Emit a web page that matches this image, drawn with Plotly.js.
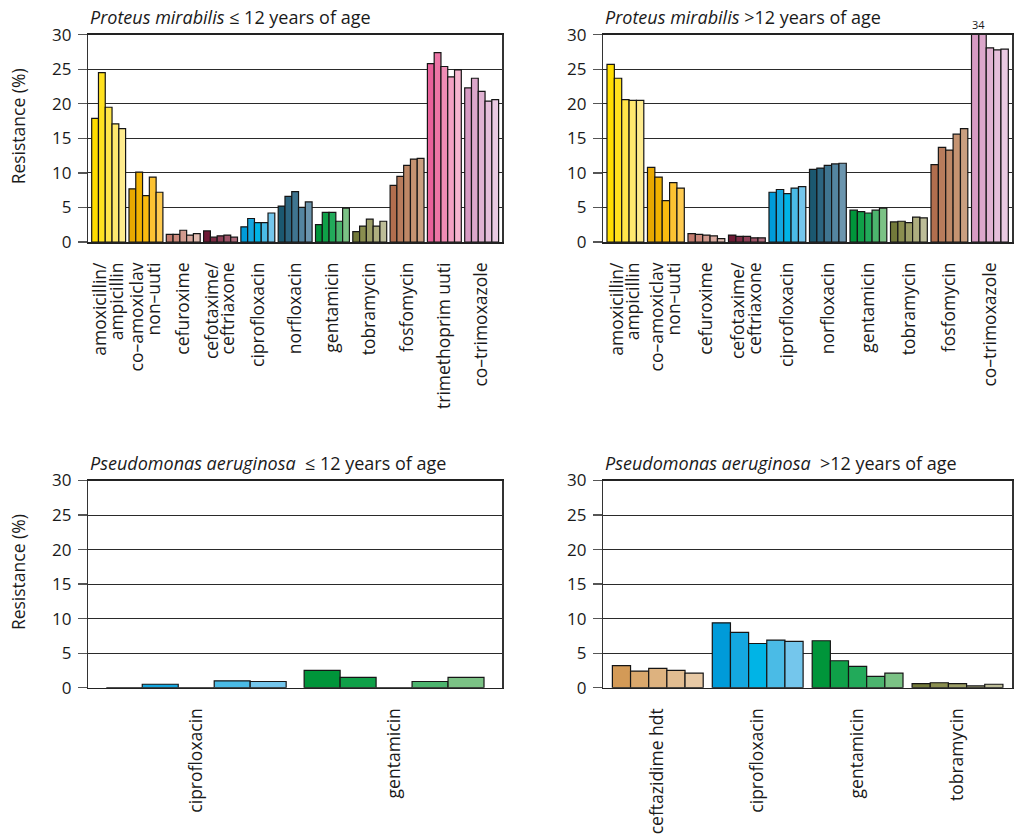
<!DOCTYPE html>
<html>
<head>
<meta charset="utf-8">
<script src="https://cdn.plot.ly/plotly-3.0.1.min.js"></script>
<style>html,body{margin:0;padding:0;background:#fff;}#chart{width:1020px;height:835px;}</style>
</head>
<body>
<div id="chart"></div>
<script>
// ---------- DATA ----------
const years = ['y1', 'y2', 'y3', 'y4', 'y5'];

const pmYoungCats = ['amox', 'coamox', 'cefur', 'cefot', 'cipro', 'norflox', 'genta', 'tobra', 'fosfo', 'trim', 'cotrim'];
const pmYoungValues = [
  [17.9, 24.5, 19.5, 17.1, 16.4],
  [7.7, 10.1, 6.7, 9.4, 7.2],
  [1.1, 1.1, 1.7, 1.0, 1.2],
  [1.6, 0.7, 0.9, 1.0, 0.7],
  [2.2, 3.4, 2.8, 2.8, 4.2],
  [5.2, 6.6, 7.3, 5.0, 5.8],
  [2.5, 4.3, 4.3, 3.0, 4.9],
  [1.5, 2.3, 3.3, 2.3, 3.0],
  [8.2, 9.5, 11.1, 12.0, 12.1],
  [25.8, 27.4, 25.4, 23.9, 24.9],
  [22.3, 23.7, 21.8, 20.4, 20.6]
];

const pmOldCats = ['amox', 'coamox', 'cefur', 'cefot', 'cipro', 'norflox', 'genta', 'tobra', 'fosfo', 'cotrim'];
const pmOldValues = [
  [25.7, 23.7, 20.6, 20.5, 20.5],
  [10.8, 9.4, 6.0, 8.6, 7.8],
  [1.2, 1.1, 1.0, 0.9, 0.5],
  [1.0, 0.8, 0.8, 0.6, 0.6],
  [7.2, 7.6, 7.0, 7.8, 8.0],
  [10.5, 10.7, 11.1, 11.3, 11.4],
  [4.6, 4.4, 4.2, 4.6, 4.9],
  [2.9, 3.0, 2.8, 3.6, 3.5],
  [11.2, 13.7, 13.3, 15.6, 16.4],
  [34, 34, 28.1, 27.8, 27.9]
];
const pmOldOffscaleLabel = '34';

const paYoungCats = ['cipro', 'genta'];
const paYoungValues = [
  [0, 0.5, 0, 1.0, 0.9],
  [2.5, 1.5, 0, 0.9, 1.5]
];

const paOldCats = ['ceftaz', 'cipro', 'genta', 'tobra'];
const paOldValues = [
  [3.2, 2.4, 2.8, 2.5, 2.1],
  [9.4, 8.0, 6.4, 6.9, 6.7],
  [6.8, 3.9, 3.1, 1.65, 2.1],
  [0.58, 0.72, 0.58, 0.25, 0.5]
];

const tickLabels = {
  amox: ['amoxicillin/', 'ampicillin'],
  coamox: ['co–amoxiclav', 'non–uuti'],
  cefur: ['cefuroxime'],
  cefot: ['cefotaxime/', 'ceftriaxone'],
  cipro: ['ciprofloxacin'],
  norflox: ['norfloxacin'],
  genta: ['gentamicin'],
  tobra: ['tobramycin'],
  fosfo: ['fosfomycin'],
  trim: ['trimethoprim uuti'],
  cotrim: ['co–trimoxazole'],
  ceftaz: ['ceftazidime hdt']
};

const panelTitles = [
  '<i>Proteus mirabilis</i> ≤ 12 years of age',
  '<i>Proteus mirabilis</i> >12 years of age',
  '<i>Pseudomonas aeruginosa</i>\u00a0 ≤ 12 years of age',
  '<i>Pseudomonas aeruginosa</i>\u00a0 >12 years of age'
];
const yTitle = 'Resistance (%)';
const yTickVals = [0, 5, 10, 15, 20, 25, 30];

// ---------- STYLE ----------
const palette = {
  amox:   ['#FFDD00', '#FFE11F', '#FFE54A', '#FFE86E', '#FFEC8E'],
  coamox: ['#E8A800', '#F2B200', '#F9BB10', '#FCC232', '#FFCB50'],
  cefur:  ['#C37B6E', '#CC8A7D', '#D19A8E', '#D9AA9F', '#E2BDB2'],
  cefot:  ['#6E1A35', '#7D2B45', '#8E3F57', '#9E5468', '#AE6B7C'],
  cipro:  ['#009BD9', '#14A7E0', '#00B4E6', '#4ABBE6', '#74C6EC'],
  norflox:['#1B5870', '#2C6580', '#3F7590', '#5485A0', '#6B95AE'],
  genta:  ['#00953A', '#0FA048', '#22AA5A', '#4CB46E', '#7BC285'],
  tobra:  ['#737A3A', '#8A8E4F', '#9C9E67', '#AEAE80', '#BDBD98'],
  fosfo:  ['#B26E4E', '#B87C5C', '#BE8866', '#C59371', '#CA9F80'],
  trim:   ['#E8609A', '#EC75A6', '#F08DB5', '#F3A1C3', '#F6B5CF'],
  cotrim: ['#D79AC3', '#DCA7CB', '#E0B2D2', '#E5BEDA', '#EACAE2'],
  ceftaz: ['#D39A57', '#DAA86C', '#DDB27F', '#E2BD91', '#E7C9A5']
};

const FONT = 'Open Sans, Noto Sans, DejaVu Sans, sans-serif';
const W = 1020, H = 835;
const GROUP = 5.5;       // 5 bars + half-bar gap
const LINE_GAP_PX = 16.5; // spacing between the two lines of a rotated label

const panels = [
  {cats: pmYoungCats, vals: pmYoungValues, px: [88.3, 502], py: [34.7, 242]},
  {cats: pmOldCats,   vals: pmOldValues,   px: [603.3, 1012], py: [34.7, 242]},
  {cats: paYoungCats, vals: paYoungValues, px: [88.3, 502], py: [480.5, 687.7]},
  {cats: paOldCats,   vals: paOldValues,   px: [603.3, 1012], py: [480.5, 687.7]}
];

const data = [];
const layout = {
  width: W, height: H,
  margin: {l: 0, r: 0, t: 0, b: 0},
  paper_bgcolor: '#fff', plot_bgcolor: '#fff',
  showlegend: false,
  font: {family: FONT, size: 17, color: '#1a1a1a'},
  annotations: [],
  bargap: 0
};

panels.forEach((p, i) => {
  const n = i + 1;
  const sfx = n === 1 ? '' : String(n);
  const xs = [], ys = [], cols = [];
  p.cats.forEach((c, g) => {
    p.vals[g].forEach((v, j) => {
      xs.push(g * GROUP + 1 + j);
      ys.push(v);
      cols.push(palette[c][j]);
    });
  });
  data.push({
    type: 'bar', x: xs, y: ys, width: 1,
    xaxis: 'x' + sfx, yaxis: 'y' + sfx,
    marker: {color: cols, line: {color: '#151515', width: 1.2}},
    hoverinfo: 'y'
  });
  const xmax = p.cats.length * GROUP + 0.5;
  const pxPerUnit = (p.px[1] - p.px[0]) / xmax;
  const tv = [], tt = [];
  p.cats.forEach((c, g) => {
    const center = g * GROUP + 3;
    const lines = tickLabels[c];
    const k = lines.length;
    lines.forEach((ln, li) => {
      tv.push(center + (li - (k - 1) / 2) * LINE_GAP_PX / pxPerUnit);
      tt.push(ln);
    });
  });
  const xd = [p.px[0] / W, p.px[1] / W];
  const yd = [1 - p.py[1] / H, 1 - p.py[0] / H];
  layout['xaxis' + sfx] = {
    domain: xd, anchor: 'y' + sfx,
    range: [0, xmax],
    tickmode: 'array', tickvals: tv, ticktext: tt,
    tickangle: -90, ticks: '', ticklabelstandoff: 12,
    tickfont: {family: FONT, size: 17.5, color: '#1a1a1a'},
    showgrid: false, zeroline: false,
    showline: true, linecolor: '#222', linewidth: 1.5, mirror: true,
    fixedrange: true
  };
  layout['yaxis' + sfx] = {
    domain: yd, anchor: 'x' + sfx,
    range: [0, 30], tickmode: 'array', tickvals: yTickVals,
    ticks: 'outside', ticklen: 9, tickwidth: 1.2, tickcolor: '#555',
    ticklabelstandoff: 3,
    tickfont: {family: FONT, size: 17, color: '#1a1a1a'},
    showgrid: true, gridcolor: '#2a2a2a', gridwidth: 1,
    zeroline: false,
    showline: true, linecolor: '#333', linewidth: 1.5, mirror: true,
    fixedrange: true
  };
  layout.annotations.push({
    xref: 'paper', yref: 'paper',
    x: p.px[0] / W, y: 1 - (p.py[0] - 18) / H,
    xanchor: 'left', yanchor: 'middle', showarrow: false,
    text: panelTitles[i], font: {family: FONT, size: 18, color: '#1a1a1a'}
  });
  if (i % 2 === 0) {
    layout.annotations.push({
      xref: 'paper', yref: 'paper',
      x: 18 / W, y: 1 - ((p.py[0] + p.py[1]) / 2 - 12) / H,
      xanchor: 'center', yanchor: 'middle', showarrow: false, textangle: -90,
      text: yTitle, font: {family: FONT, size: 17.5, color: '#1a1a1a'}
    });
  }
});

// off-scale label for the clipped co-trimoxazole bars (>12 years)
const gC = pmOldCats.indexOf('cotrim');
layout.annotations.push({
  xref: 'x2', yref: 'y2',
  x: gC * GROUP + 1.5, y: 30,
  xanchor: 'center', yanchor: 'bottom', showarrow: false, yshift: 1,
  text: pmOldOffscaleLabel, font: {family: FONT, size: 11, color: '#1a1a1a'}
});

Plotly.newPlot('chart', data, layout, {displayModeBar: false, staticPlot: true});
</script>
</body>
</html>
